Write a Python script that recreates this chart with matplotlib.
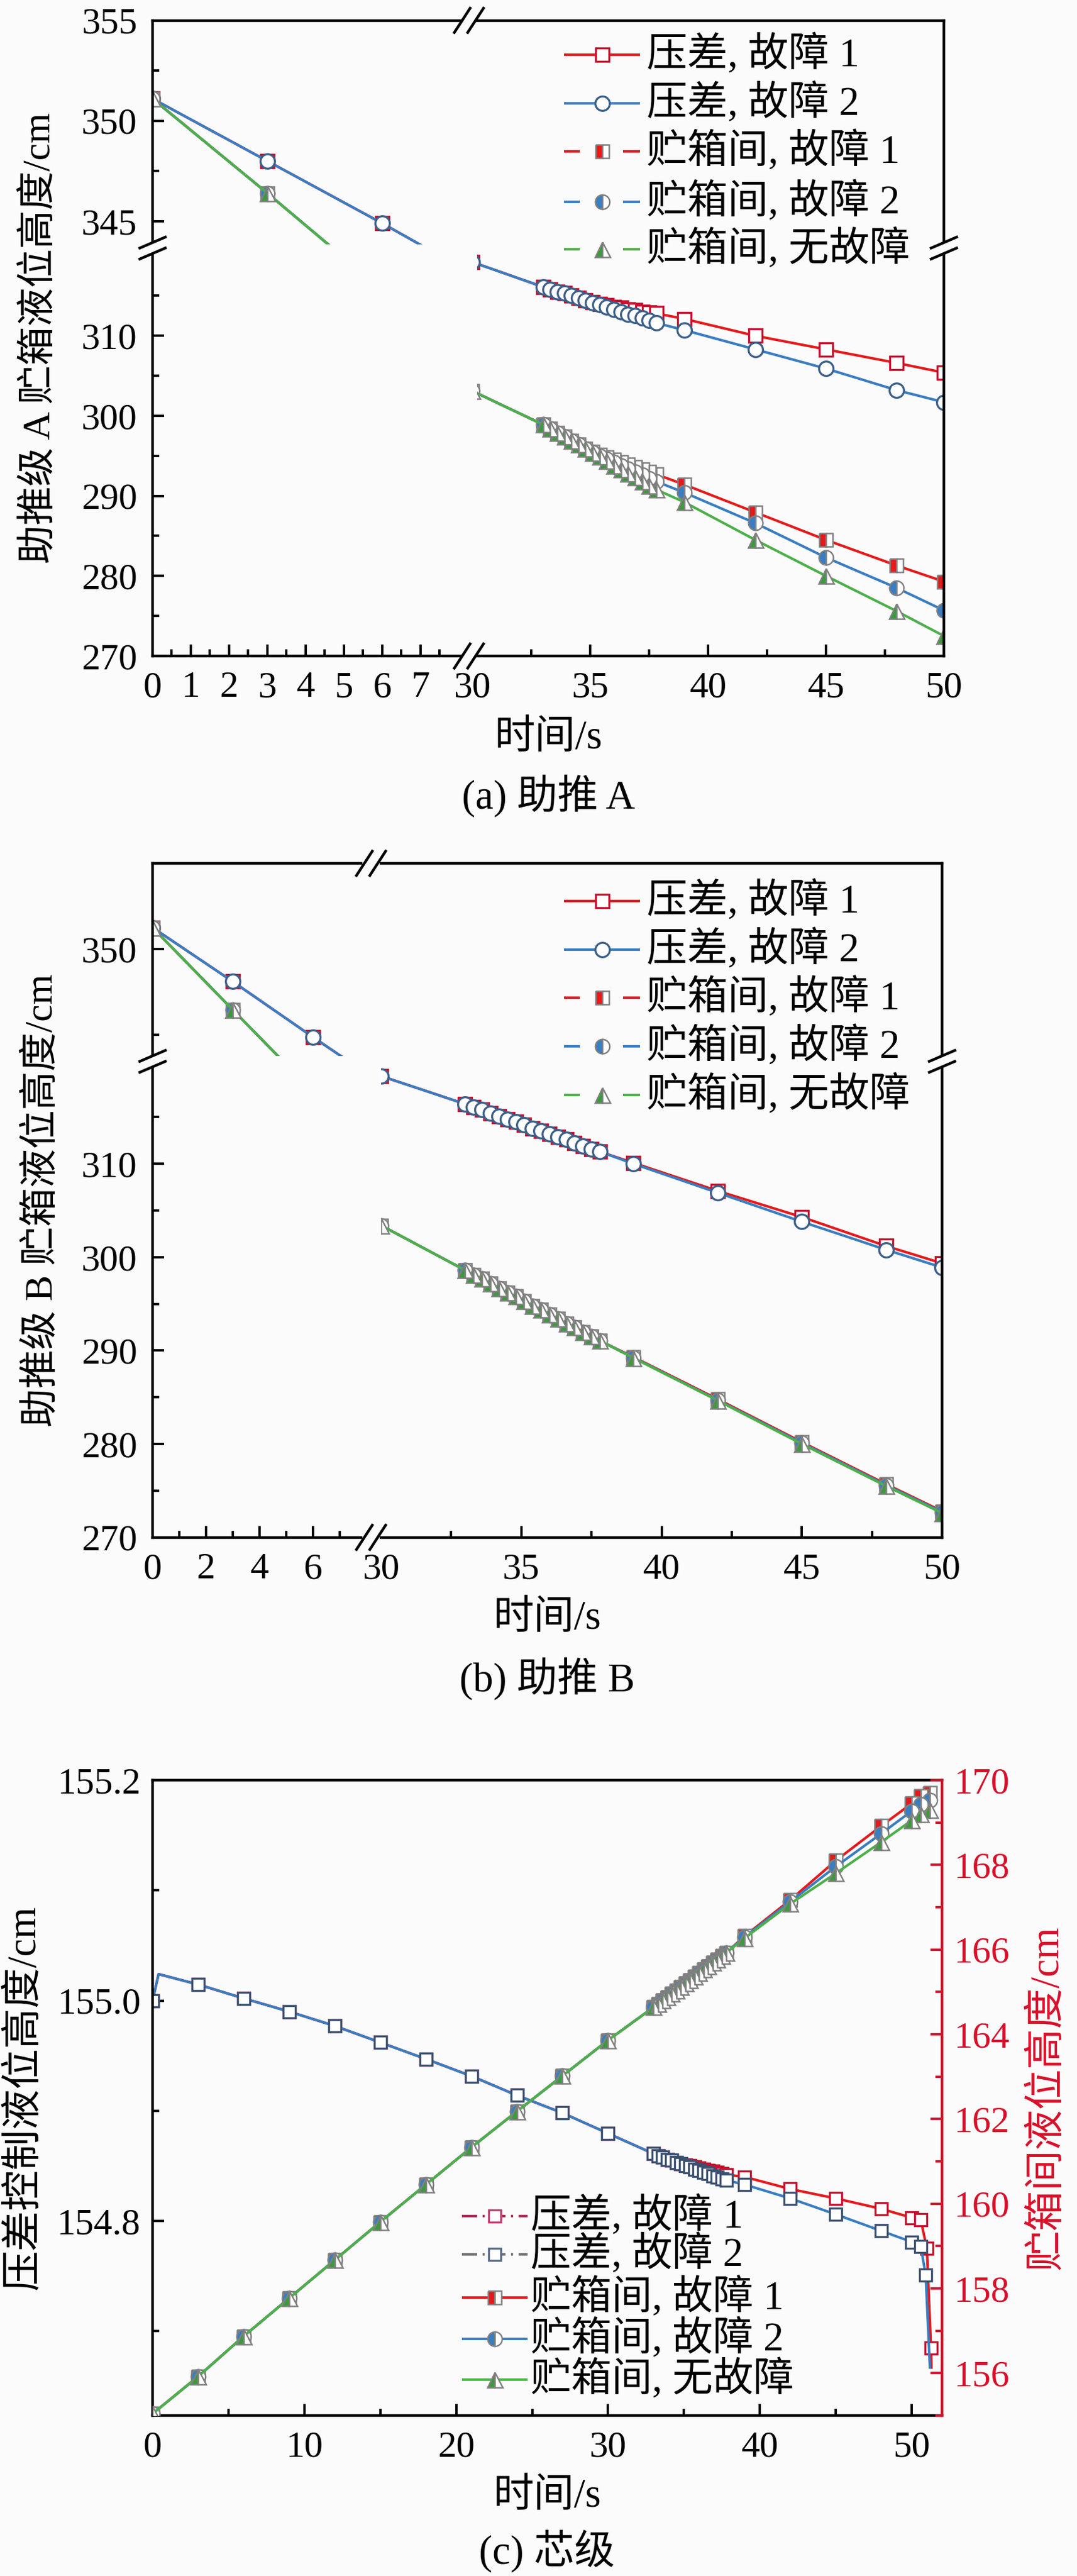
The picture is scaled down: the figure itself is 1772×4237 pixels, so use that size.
import matplotlib
matplotlib.use("Agg")
import matplotlib.pyplot as plt
from matplotlib.lines import Line2D
from matplotlib.patches import Polygon
from matplotlib.ticker import FixedLocator, FormatStrFormatter

# 数据
dense_t = [33.0, 33.3, 33.6, 33.9, 34.2, 34.5, 34.8, 35.1, 35.4, 35.7,
           36.0, 36.3, 36.6, 36.9, 37.2, 37.5, 37.8]

# (a) 助推 A
ta_dp = [0, 3, 6, 30] + dense_t + [39, 42, 45, 48, 50]
a_dp1 = [351.1, 348.0, 344.9, 319.2,
         316.1, 315.8, 315.5, 315.3, 315.0, 314.7, 314.4, 314.2, 314.0, 313.8,
         313.6, 313.5, 313.3, 313.2, 313.0, 312.9, 312.8,
         312.1, 310.0, 308.3, 306.6, 305.4]
a_dp2 = [351.1, 348.0, 344.9, 319.2,
         316.1, 315.8, 315.5, 315.3, 315.0, 314.7, 314.4, 314.1, 313.9, 313.6,
         313.3, 313.0, 312.7, 312.5, 312.2, 311.9, 311.6,
         310.7, 308.3, 305.9, 303.2, 301.7]
ta_tk = [0, 3, 30] + dense_t + [39, 42, 45, 48, 50]
a_tk1 = [351.1, 346.4, 303.1,
         298.9, 298.4, 297.9, 297.4, 296.9, 296.4, 295.9, 295.5, 295.1, 294.8,
         294.5, 294.2, 293.9, 293.6, 293.3, 293.0, 292.7,
         291.4, 287.95, 284.5, 281.3, 279.3]
a_tk2 = [351.1, 346.4, 303.1,
         298.9, 298.4, 297.9, 297.4, 296.9, 296.4, 295.9, 295.45, 295.0, 294.6,
         294.2, 293.8, 293.4, 293.0, 292.6, 292.2, 291.8,
         290.4, 286.6, 282.3, 278.5, 275.7]
a_tk0 = [351.1, 346.4, 303.1,
         298.9, 298.4, 297.9, 297.4, 296.9, 296.4, 295.9, 295.4, 294.9, 294.4,
         293.8, 293.3, 292.8, 292.3, 291.8, 291.3, 290.8,
         289.2, 284.5, 280.0, 275.6, 272.5]

# (b) 助推 B
tb_dp = ta_dp
b_dp1 = [351.25, 348.1, 344.86, 319.4,
         316.4, 316.1, 315.8, 315.4, 315.1, 314.8, 314.5, 314.2, 313.8, 313.5,
         313.2, 312.9, 312.6, 312.2, 311.9, 311.6, 311.3,
         310.1, 307.1, 304.3, 301.2, 299.35]
b_dp2 = [351.25, 348.1, 344.86, 319.4,
         316.4, 316.1, 315.8, 315.4, 315.1, 314.8, 314.5, 314.2, 313.8, 313.5,
         313.2, 312.9, 312.6, 312.2, 311.9, 311.6, 311.3,
         310.0, 306.9, 303.8, 300.8, 298.9]
tb_tk = ta_tk
b_tk1 = [351.25, 346.45, 303.4,
         298.6, 298.1, 297.7, 297.2, 296.7, 296.2, 295.8, 295.3, 294.8, 294.4,
         293.9, 293.4, 292.9, 292.5, 292.0, 291.5, 291.05,
         289.3, 284.8, 280.2, 275.7, 272.8]
b_tk2 = [351.25, 346.45, 303.4,
         298.6, 298.1, 297.7, 297.2, 296.7, 296.2, 295.8, 295.3, 294.8, 294.4,
         293.9, 293.4, 292.9, 292.5, 292.0, 291.5, 291.05,
         289.25, 284.7, 280.1, 275.6, 272.7]
b_tk0 = [351.25, 346.45, 303.4,
         298.6, 298.1, 297.7, 297.2, 296.7, 296.2, 295.8, 295.3, 294.8, 294.4,
         293.9, 293.4, 292.9, 292.5, 292.0, 291.5, 291.05,
         289.2, 284.65, 280.0, 275.5, 272.6]

# (c) 芯级
tc_head = [0, 0.4, 3, 6, 9, 12, 15, 18, 21, 24, 27, 30]
c_head = [155.000, 155.024, 155.0146, 155.002, 154.990, 154.977, 154.962,
          154.947, 154.9315, 154.914, 154.898, 154.8795]
tc_dp1 = tc_head + dense_t + [39, 42, 45, 48, 50, 50.6, 51.0, 51.27, 51.3]
c_dp1 = c_head + [154.861, 154.859, 154.858, 154.856, 154.855, 154.853, 154.852,
                  154.851, 154.850, 154.849, 154.848, 154.847, 154.846, 154.845,
                  154.844, 154.843, 154.842,
                  154.840, 154.829, 154.8205, 154.811, 154.803, 154.801,
                  154.775, 154.685, 154.667]
tc_dp2 = tc_head + dense_t + [39, 42, 45, 48, 50, 50.6, 50.92, 51.2]
c_dp2 = c_head + [154.861, 154.859, 154.858, 154.856, 154.855, 154.853, 154.852,
                  154.850, 154.849, 154.847, 154.846, 154.844, 154.843, 154.841,
                  154.840, 154.838, 154.837,
                  154.833, 154.8205, 154.806, 154.791, 154.781, 154.777,
                  154.751, 154.667]
tc_tk = [0, 3, 6, 9, 12, 15, 18, 21, 24, 27, 30] + dense_t + [39, 42, 45, 48, 50, 50.6, 51.2]
c_tk_head = [155.04, 155.92, 156.87, 157.77, 158.67, 159.57, 160.45, 161.33,
             162.18, 163.02, 163.86,
             164.64, 164.72, 164.80, 164.88, 164.96, 165.04, 165.12, 165.20,
             165.28, 165.37, 165.45, 165.53, 165.61, 165.69, 165.77, 165.85, 165.93]
c_tk1 = c_tk_head + [166.32, 167.17, 168.10, 168.92, 169.45, 169.62, 169.70]
c_tk2 = c_tk_head + [166.30, 167.13, 167.96, 168.74, 169.27, 169.42, 169.52]
c_tk0 = c_tk_head + [166.27, 167.08, 167.80, 168.54, 169.05, 169.20, 169.30]

labels = ["压差, 故障 1", "压差, 故障 2", "贮箱间, 故障 1", "贮箱间, 故障 2", "贮箱间, 无故障"]

W, H, DPI = 1772, 4237, 200
BG = "#fbfbfb"
RED = "#e41a1c"
BLUE = "#3a7dc2"
GREEN = "#4daf4a"
RED_AX = "#d8102a"
GRAY = "#808080"
FS = 24

plt.rcParams["font.family"] = ["Liberation Serif", "Noto Sans CJK SC"]
plt.rcParams["font.size"] = 22
plt.rcParams["axes.linewidth"] = 1.6
plt.rcParams["xtick.direction"] = "in"
plt.rcParams["ytick.direction"] = "in"
plt.rcParams["xtick.major.size"] = 7
plt.rcParams["ytick.major.size"] = 7
plt.rcParams["xtick.minor.size"] = 4
plt.rcParams["ytick.minor.size"] = 4
plt.rcParams["xtick.major.width"] = 1.4
plt.rcParams["ytick.major.width"] = 1.4
plt.rcParams["xtick.minor.width"] = 1.4
plt.rcParams["ytick.minor.width"] = 1.4

fig = plt.figure(figsize=(W / DPI, H / DPI), dpi=DPI, facecolor=BG)


def fx(x):
    return x / W


def fy(y):
    return 1 - y / H


def px_axes(l, t, r, b):
    ax = fig.add_axes([fx(l), fy(b), (r - l) / W, (b - t) / H])
    ax.set_facecolor("none")
    return ax


def brk(cx, cy, vertical):
    if vertical:
        segs = [((cx - 21, cy + o + 9), (cx + 21, cy + o - 9)) for o in (-9, 9)]
    else:
        segs = [((cx + o - 13, cy + 20), (cx + o + 13, cy - 20)) for o in (-11, 11)]
    poly = [segs[0][0], segs[0][1], segs[1][1], segs[1][0]]
    fig.add_artist(Polygon([(fx(x), fy(y)) for x, y in poly], closed=True,
                           transform=fig.transFigure, fc=BG, ec="none", zorder=10))
    for (x0, y0), (x1, y1) in segs:
        fig.add_artist(Line2D([fx(x0), fx(x1)], [fy(y0), fy(y1)],
                              transform=fig.transFigure, color="k", lw=1.6, zorder=11))


def split_style(st):
    line = {k: v for k, v in st.items() if k in ("color", "lw")}
    mark = {k: v for k, v in st.items() if k not in ("color", "lw")}
    return line, mark


def legend_rows(x0, x1, xt, ys, entries):
    # entries: (style dict, kind) kind: solid / dashed / dashdot
    for y, (st, kind), lab in zip(ys, entries, labels):
        line, mark = split_style(st)
        xm = (x0 + x1) / 2
        if kind == "dashed":
            for a, b in ((x0, x0 + 26), (x1 - 28, x1)):
                fig.add_artist(Line2D([fx(a), fx(b)], [fy(y), fy(y)], transform=fig.transFigure,
                                      solid_capstyle="butt", **line))
        elif kind == "dashdot":
            fig.add_artist(Line2D([fx(x0), fx(x1)], [fy(y), fy(y)], transform=fig.transFigure,
                                  ls=(0, (6, 2.2, 0.8, 2.2)), **line))
        else:
            fig.add_artist(Line2D([fx(x0), fx(x1)], [fy(y), fy(y)], transform=fig.transFigure,
                                  solid_capstyle="butt", **line))
        fig.add_artist(Line2D([fx(xm)], [fy(y)], transform=fig.transFigure, ls="none",
                              color=line["color"], **mark))
        fig.text(fx(xt), fy(y), lab, ha="left", va="center", fontsize=FS)


dp_style1 = dict(color=RED, lw=1.5, marker="s", ms=8, mfc="white", mec="#c8102e", mew=1.2)
dp_style2 = dict(color=BLUE, lw=1.5, marker="o", ms=8.5, mfc="white", mec="#3c5f8a", mew=1.2)
tk_style1 = dict(color=RED, lw=1.5, marker="s", ms=8, fillstyle="left", mfc=RED,
                 markerfacecoloralt="white", mec=GRAY, mew=0.9)
tk_style2 = dict(color=BLUE, lw=1.5, marker="o", ms=8.5, fillstyle="left", mfc=BLUE,
                 markerfacecoloralt="white", mec=GRAY, mew=0.9)
tk_style0 = dict(color=GREEN, lw=1.5, marker="^", ms=9, fillstyle="left", mfc="#3c9a3c",
                 markerfacecoloralt="white", mec=GRAY, mew=0.9)


def broken_panel(box, xb, yb, xl, xr, yu, ylo, data, ticks, leg_ys):
    l, t, r, b = box
    ul = px_axes(l, t, xb[0], yb[0])
    ur = px_axes(xb[1], t, r, yb[0])
    ll = px_axes(l, yb[1], xb[0], b)
    lr = px_axes(xb[1], yb[1], r, b)
    for ax, xlim, ylim in ((ul, xl, yu), (ur, xr, yu), (ll, xl, ylo), (lr, xr, ylo)):
        ax.set_xlim(*xlim)
        ax.set_ylim(*ylim)
        tdp, dp1, dp2, ttk, tk1, tk2, tk0 = data
        ax.plot(tdp, dp1, **dp_style1)
        ax.plot(tdp, dp2, **dp_style2)
        ax.plot(ttk, tk1, **tk_style1)
        ax.plot(ttk, tk2, **tk_style2)
        ax.plot(ttk, tk0, **tk_style0)
        ax.tick_params(which="both", top=False, right=False, bottom=False, left=False,
                       labelbottom=False, labelleft=False, pad=9)
    ul.spines[["bottom", "right"]].set_visible(False)
    ur.spines[["bottom", "left"]].set_visible(False)
    ll.spines[["top", "right"]].set_visible(False)
    lr.spines[["top", "left"]].set_visible(False)

    xl_maj, xl_min, yu_maj, yu_min = ticks
    for ax in (ul, ll):
        ax.tick_params(which="both", left=True, labelleft=True)
    for ax in (ll, lr):
        ax.tick_params(which="both", bottom=True, labelbottom=True)
    ul.yaxis.set_major_locator(FixedLocator(yu_maj))
    ul.yaxis.set_minor_locator(FixedLocator(yu_min))
    ll.yaxis.set_major_locator(FixedLocator([270, 280, 290, 300, 310]))
    ll.yaxis.set_minor_locator(FixedLocator([275, 285, 295, 305, 315]))
    ll.xaxis.set_major_locator(FixedLocator(xl_maj))
    ll.xaxis.set_minor_locator(FixedLocator(xl_min))
    lr.xaxis.set_major_locator(FixedLocator([35, 40, 45, 50]))
    lr.xaxis.set_minor_locator(FixedLocator([32.5, 37.5, 42.5, 47.5]))
    lr.annotate("30", xy=(30, 0), xycoords=("data", "axes fraction"), xytext=(0, -9),
                textcoords="offset points", ha="center", va="top", annotation_clip=False)

    cxb = (xb[0] + xb[1]) / 2
    cyb = (yb[0] + yb[1]) / 2
    brk(cxb, t, False)
    brk(cxb, b, False)
    brk(l, cyb, True)
    brk(r, cyb, True)

    legend_rows(928, 1053, 1064, leg_ys,
                [(dp_style1, "solid"), (dp_style2, "solid"), (tk_style1, "dashed"),
                 (tk_style2, "dashed"), (tk_style0, "dashed")])


# (a)
broken_panel((251, 33.5, 1553, 1079), (758, 785), (402, 414),
             (0, 8.05), (30.2, 50), (343.85, 355), (270, 320.5),
             (ta_dp, a_dp1, a_dp2, ta_tk, a_tk1, a_tk2, a_tk0),
             (list(range(8)), [0.5 + i for i in range(8)], [345, 350, 355], [347.5, 352.5]),
             [90, 170, 249, 332, 410])
fig.text(fx(66), fy(556), "助推级 A 贮箱液位高度/cm", rotation=90, ha="center", va="center", fontsize=23)
fig.text(fx(902), fy(1215), "时间/s", ha="center", va="center", fontsize=FS)
fig.text(fx(902), fy(1310), "(a) 助推 A", ha="center", va="center", fontsize=FS)

# (b)
broken_panel((251, 1420, 1550, 2528.6), (594, 627), (1737, 1754.5),
             (0, 7.8), (30, 50), (343.75, 355), (270, 320.4),
             (tb_dp, b_dp1, b_dp2, tb_tk, b_tk1, b_tk2, b_tk0),
             ([0, 2, 4, 6], [1, 3, 5, 7], [350], [345, 355]),
             [1482, 1562, 1641, 1721, 1801])
fig.text(fx(70), fy(1974), "助推级 B 贮箱液位高度/cm", rotation=90, ha="center", va="center", fontsize=23)
fig.text(fx(900), fy(2662), "时间/s", ha="center", va="center", fontsize=FS)
fig.text(fx(900), fy(2762), "(b) 助推 B", ha="center", va="center", fontsize=FS)

# (c)
axc = px_axes(251, 2928, 1550, 3973)
axc2 = axc.twinx()
axc.set_xlim(0, 52)
axc.set_ylim(154.6235, 155.2)
axc2.set_ylim(155.0, 170.0)

dpc1 = dict(color=RED, lw=1.5, marker="s", ms=7.5, mfc="white", mec="#c8102e", mew=1.2)
dpc2 = dict(color=BLUE, lw=1.5, marker="s", ms=7.5, mfc="white", mec="#3c5070", mew=1.2)
marks1 = [i for i in range(len(tc_dp1)) if i not in (1, len(tc_dp1) - 1)]
marks2 = [i for i in range(len(tc_dp2)) if i not in (1, len(tc_dp2) - 1)]
axc.plot(tc_dp1, c_dp1, markevery=marks1, **dpc1)
axc.plot(tc_dp2, c_dp2, markevery=marks2, **dpc2)
axc2.plot(tc_tk, c_tk1, **tk_style1)
axc2.plot(tc_tk, c_tk2, **tk_style2)
axc2.plot(tc_tk, c_tk0, **tk_style0)

axc.spines["right"].set_visible(False)
axc2.spines[["left", "top", "bottom"]].set_visible(False)
axc2.spines["right"].set_color(RED_AX)
axc.tick_params(which="both", top=False, right=False)
axc.tick_params(axis="y", pad=7)
axc.tick_params(axis="x", pad=9)
axc2.tick_params(which="both", colors=RED_AX, pad=7)
axc.xaxis.set_major_locator(FixedLocator([0, 10, 20, 30, 40, 50]))
axc.xaxis.set_minor_locator(FixedLocator([5, 15, 25, 35, 45]))
axc.yaxis.set_major_locator(FixedLocator([154.8, 155.0, 155.2]))
axc.yaxis.set_minor_locator(FixedLocator([154.7, 154.9, 155.1]))
axc.yaxis.set_major_formatter(FormatStrFormatter("%.1f"))
axc2.yaxis.set_major_locator(FixedLocator([156, 158, 160, 162, 164, 166, 168, 170]))
axc2.yaxis.set_minor_locator(FixedLocator([155, 157, 159, 161, 163, 165, 167, 169]))

leg_c1 = dict(color="#a8305a", lw=1.5, marker="s", ms=7.5, mfc="white", mec="#c04070", mew=1.2)
leg_c2 = dict(color="#707070", lw=1.5, marker="s", ms=7.5, mfc="white", mec="#5a6a8a", mew=1.2)
legend_rows(760, 868, 873, [3645, 3708, 3779, 3847, 3914],
            [(leg_c1, "dashdot"), (leg_c2, "dashdot"), (tk_style1, "solid"),
             (tk_style2, "solid"), (tk_style0, "solid")])

fig.text(fx(40), fy(3450), "压差控制液位高度/cm", rotation=90, ha="center", va="center", fontsize=FS)
fig.text(fx(1723), fy(3450), "贮箱间液位高度/cm", rotation=90, ha="center", va="center",
         color=RED_AX, fontsize=FS)
fig.text(fx(900), fy(4107), "时间/s", ha="center", va="center", fontsize=FS)
fig.text(fx(900), fy(4196), "(c) 芯级", ha="center", va="center", fontsize=FS)

fig.savefig("out.png", dpi=DPI, facecolor=BG)
